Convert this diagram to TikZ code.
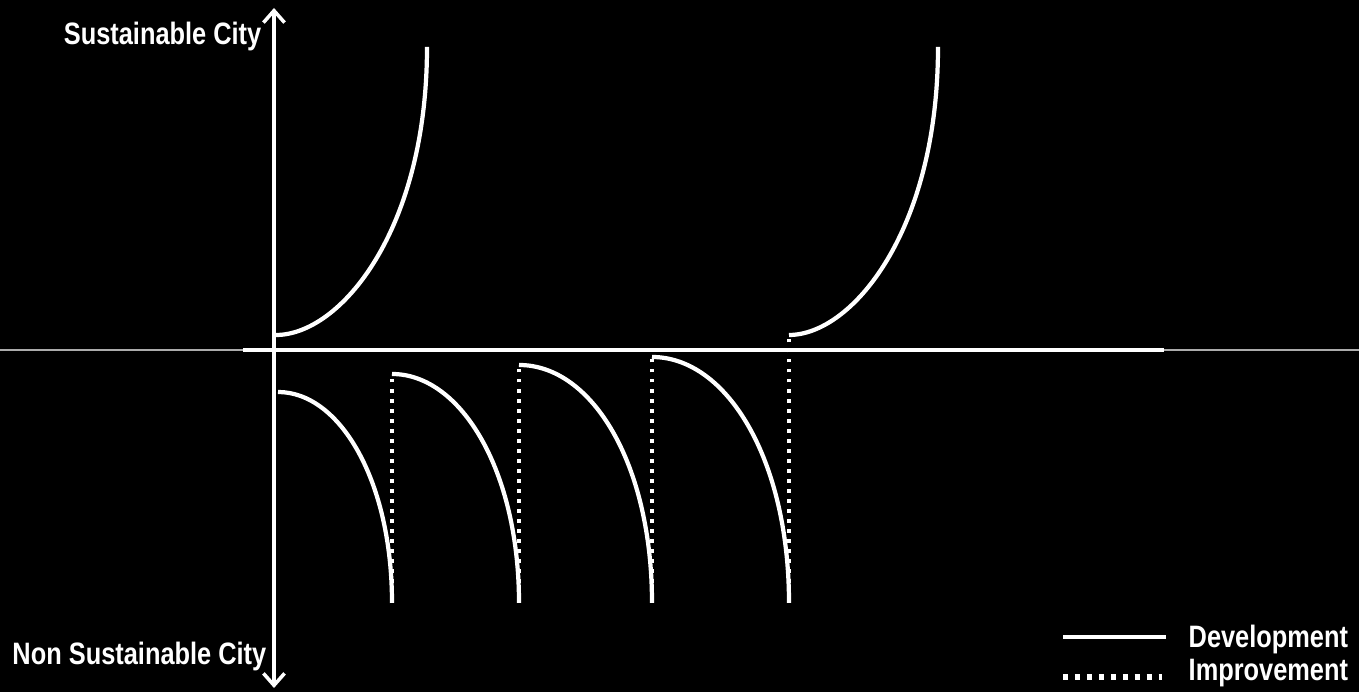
\documentclass[tikz,border=0pt]{standalone}
\usepackage{fontspec}
\setmainfont{Liberation Sans}[FakeStretch=0.82]
\usetikzlibrary{arrows.meta}
\tikzset{
  axisline/.style={white, line width=1.0pt},
  devline/.style={white, line width=1.2pt},
  impline/.style={white, line width=1.3pt, dash pattern=on 1pt off 1.85pt},
  lbl/.style={text=white, inner sep=0pt,
              font=\bfseries\fontsize{8.8}{10}\selectfont},
}

\begin{document}
\begin{tikzpicture}[x=0.01cm, y=-0.01cm,
          >={Straight Barb[length=3.4pt, width=6pt]}]
        % background
        \fill[black] (0,0) rectangle (1359,692);
        \useasboundingbox (0,0) rectangle (1359,692);
        % axes
        \coordinate (hl) at (0,350);
        \coordinate (hr) at (1359,350);
        \coordinate (xl) at (243,350);
        \coordinate (xr) at (1164,350);
        \coordinate (ytop) at (274,8);
        \coordinate (ybot) at (274,688);
        \draw[gray!65, line width=0.3pt] (hl)--(hr);
        \draw[axisline] (xl)--(xr);
        \draw[axisline, <->] (ybot)--(ytop);
        \node[lbl, anchor=base east] (sus) at (262,45) {Sustainable City};
        \node[lbl, anchor=base east] (nonsus) at (267,665)
              {Non Sustainable City};
        % development: decline
        \coordinate (d1s) at (278,392);
        \coordinate (d1e) at (392,603);
        \coordinate (d2s) at (392,374);
        \coordinate (d2e) at (519,603);
        \coordinate (d3s) at (519,365);
        \coordinate (d3e) at (652,603);
        \coordinate (d4s) at (652,357);
        \coordinate (d4e) at (789,603);
        \draw[devline] (d1s) .. controls +(62,0) and +(0,-122) .. (d1e);
        \draw[devline] (d2s) .. controls +(69,0) and +(0,-132) .. (d2e);
        \draw[devline] (d3s) .. controls +(73,0) and +(0,-139) .. (d3e);
        \draw[devline] (d4s) .. controls +(75,0) and +(0,-143) .. (d4e);
        % development: growth
        \coordinate (u1s) at (276,335);
        \coordinate (u1e) at (427,47);
        \coordinate (u2s) at (789,335);
        \coordinate (u2e) at (938,47);
        \draw[devline] (u1s) .. controls +(64,0) and +(0,184) .. (u1e);
        \draw[devline] (u2s) .. controls +(63,0) and +(0,184) .. (u2e);
        % improvement
        \draw[impline] (d1e)--(d2s);
        \draw[impline] (d2e)--(d3s);
        \draw[impline] (d3e)--(d4s);
        \draw[impline] (d4e)--(u2s);
        % legend
        \coordinate (ld1) at (1063,637);
        \coordinate (ld2) at (1166,637);
        \coordinate (li1) at (1063,677);
        \coordinate (li2) at (1162,677);
        \draw[devline] (ld1)--(ld2);
        \draw[impline, line width=1.5pt, dash pattern=on 1.4pt off 2pt]
              (li1)--(li2);
        \node[lbl, anchor=base west] (devtxt) at (1188,648) {Development};
        \node[lbl, anchor=base west] (imptxt) at (1188,681) {Improvement};
      \end{tikzpicture}
\end{document}
